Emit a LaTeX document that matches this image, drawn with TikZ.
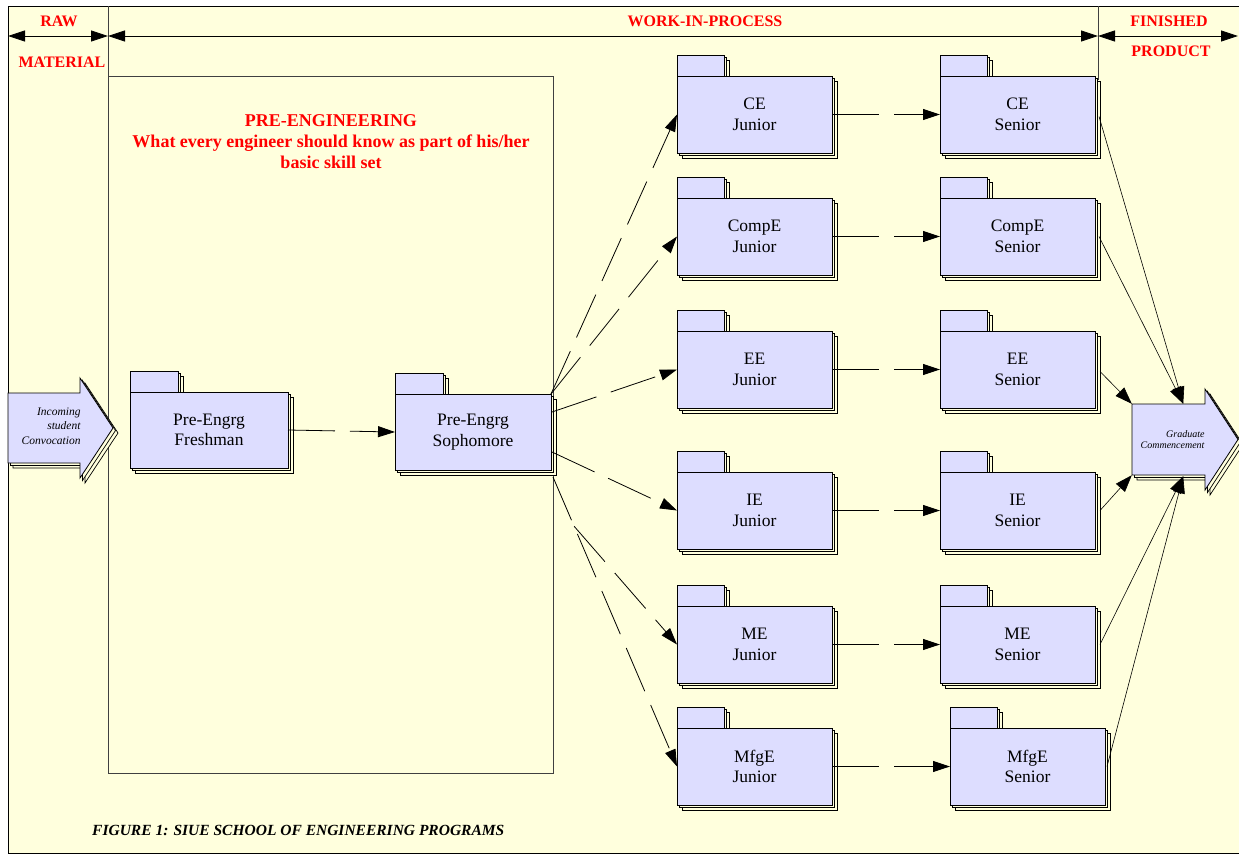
\documentclass[tikz,border=0pt]{standalone}
\usepackage{fontspec}
\setmainfont{Liberation Serif}
\usetikzlibrary{arrows.meta,calc}
\definecolor{bgy}{RGB}{255,255,221}
\definecolor{lav}{RGB}{221,221,255}
\definecolor{hdrred}{RGB}{255,0,0}
\tikzset{
  pkg/.style={draw, line width=0.8pt, fill=lav, align=center, inner sep=0pt, outer sep=0pt,
    font=\fontsize{17.5}{20.5}\selectfont},
  shadowbox/.style={draw, line width=0.7pt, fill=bgy},
  hdr/.style={text=hdrred, font=\bfseries\fontsize{16}{18}\selectfont, inner sep=0pt},
  hdrarrow/.style={line width=0.8pt, {Triangle[length=17pt,width=11pt]}-{Triangle[length=17pt,width=11pt]}},
  dconn/.style={line width=0.8pt, dash pattern=on 47pt off 15pt, -{Triangle[length=17pt,width=11pt]}},
  sconn/.style={line width=0.6pt, -{Triangle[length=17pt,width=12pt]}},
  bigarrow/.style={draw, line width=0.8pt, fill=lav},
  bigshadow/.style={draw, line width=0.7pt, fill=bgy},
}
% name, x left, y top of body, width, height, tab width, text
\newcommand\pkgbox[7]{%
  \foreach \o in {5,2.5}{%
    \draw[shadowbox] (#2+\o,#3-21+\o) rectangle ++(#6,21);
    \draw[shadowbox] (#2+\o,#3+\o) rectangle ++(#4,#5);
  }
  \draw[line width=0.8pt, fill=lav] (#2,#3-21) rectangle ++(#6,21);
  \node[pkg, minimum width=#4pt, minimum height=#5pt, anchor=north west] (#1) at (#2,#3) {#7};
}
\begin{document}
\begin{tikzpicture}[x=1pt,y=-1pt]
\useasboundingbox (0,0) rectangle (1239,855);
\fill[white] (0,0) rectangle (1239,855);
\draw[line width=0.8pt, fill=bgy] (8,6) rectangle (1260,853);

% header dividers
\draw[line width=0.8pt, black!75] (108,6) -- (108,773);
\draw[line width=0.8pt, black!75] (1098,6) -- (1098,80);
\draw[line width=0.8pt, black!75] (108,76) rectangle (553,773);

% header arrows
\coordinate (rawL) at (8,36);
\coordinate (rawR) at (108,36);
\coordinate (wipR) at (1098,36);
\coordinate (finR) at (1238,36);
\draw[hdrarrow] (rawL) -- (rawR);
\draw[hdrarrow] (rawR) -- (wipR);
\draw[hdrarrow] (wipR) -- (finR);
\node[hdr] (raw) at (59,21) {RAW};
\node[hdr] (mat) at (62,62) {MATERIAL};
\node[hdr] (wip) at (705,21) {WORK-IN-PROCESS};
\node[hdr] (fin) at (1169,21) {FINISHED};
\node[hdr] (prod) at (1171,51) {PRODUCT};

% pre-engineering title
\node[text=hdrred, font=\bfseries\fontsize{18}{21}\selectfont, align=center, inner sep=0pt] (pretitle) at (331,142)
  {PRE-ENGINEERING\\What every engineer should know as part of his/her\\basic skill set};

% incoming arrow
\foreach \o in {5,2.5}{%
  \path[bigshadow] (8+\o,393+\o) -- (80+\o,393+\o) -- (80+\o,378+\o) -- (113+\o,428+\o) -- (80+\o,478+\o) -- (80+\o,463+\o) -- (8+\o,463+\o) -- cycle;
}
\path[bigarrow] (8,393) -- (80,393) -- (80,378) -- (113,428) -- (80,478) -- (80,463) -- (8,463) -- cycle;
\node[minimum width=72pt, minimum height=70pt, text width=73pt, align=right, inner sep=0pt,
  font=\itshape\fontsize{11.5}{14.5}\selectfont] (inc) at (44,426) {Incoming\\student\\Convocation};

% graduate arrow
\foreach \o in {5,2.5}{%
  \path[bigshadow] (1132+\o,404+\o) -- (1205+\o,404+\o) -- (1205+\o,389+\o) -- (1238+\o,439.5+\o) -- (1205+\o,490+\o) -- (1205+\o,475+\o) -- (1132+\o,475+\o) -- cycle;
}
\path[bigarrow] (1132,404) -- (1205,404) -- (1205,389) -- (1238,439.5) -- (1205,490) -- (1205,475) -- (1132,475) -- cycle;
\node[minimum width=73pt, minimum height=71pt, text width=72pt, align=right, inner sep=0pt,
  font=\itshape\fontsize{10}{11.5}\selectfont] (grad) at (1168.5,439.5) {Graduate\\Commencement};
\coordinate (gradtop) at ($(grad.north east)+(-22,0)$);
\coordinate (gradbot) at ($(grad.south east)+(-22,1)$);

% packages
\pkgbox{fresh}{130}{392}{158}{76}{48}{Pre-Engrg\\Freshman}
\pkgbox{soph}{395}{394}{156}{76}{48}{Pre-Engrg\\Sophomore}

\pkgbox{cej}{677}{76}{155}{77}{47}{CE\\Junior}
\pkgbox{compej}{677}{198}{155}{77}{47}{CompE\\Junior}
\pkgbox{eej}{677}{331}{155}{77}{47}{EE\\Junior}
\pkgbox{iej}{677}{472}{155}{77}{47}{IE\\Junior}
\pkgbox{mej}{677}{606}{155}{77}{47}{ME\\Junior}
\pkgbox{mfgej}{677}{728}{155}{77}{47}{MfgE\\Junior}

\pkgbox{cesr}{940}{76}{155}{77}{47}{CE\\Senior}
\pkgbox{compesr}{940}{198}{155}{77}{47}{CompE\\Senior}
\pkgbox{eesr}{940}{331}{155}{77}{47}{EE\\Senior}
\pkgbox{iesr}{940}{472}{155}{77}{47}{IE\\Senior}
\pkgbox{mesr}{940}{606}{155}{77}{47}{ME\\Senior}
\pkgbox{mfgesr}{950}{728}{155}{77}{47}{MfgE\\Senior}

% connectors
\draw[dconn] (fresh.east) -- (soph.west);
\draw[dconn] (soph.north east) -- (cej.west);
\draw[dconn] (soph.north east) -- (compej.west);
\draw[dconn] ($(soph.north east)+(1,18)$) -- (eej.west);
\draw[dconn] ($(soph.north east)+(1,58)$) -- (iej.west);
\coordinate (sophse) at ($(soph.south east)+(2,7)$);
\draw[dconn] (sophse) -- (mfgej.west);
\draw[dconn] ($(sophse)!0.17!(mfgej.west)$) -- (mej.west);

\draw[dconn] (cej.east) -- (cesr.west);
\draw[dconn] (compej.east) -- (compesr.west);
\draw[dconn] (eej.east) -- (eesr.west);
\draw[dconn] (iej.east) -- (iesr.west);
\draw[dconn] (mej.east) -- (mesr.west);
\draw[dconn] (mfgej.east) -- (mfgesr.west);

\draw[sconn] ($(cesr.east)+(4,2)$) -- (gradtop);
\draw[sconn] ($(compesr.east)+(4,0)$) -- (gradtop);
\draw[sconn] ($(eesr.east)+(5,2)$) -- (grad.north west);
\draw[sconn] ($(iesr.east)+(5,0)$) -- (grad.south west);
\draw[sconn] ($(mesr.east)+(5,0)$) -- (gradbot);
\draw[sconn] ($(mfgesr.east)+(2,0)$) -- (gradbot);

% caption
\node[anchor=west, inner sep=0pt, font=\bfseries\itshape\fontsize{15.5}{18}\selectfont] (cap) at (92,830)
  {FIGURE 1: SIUE SCHOOL OF ENGINEERING PROGRAMS};
\end{tikzpicture}
\end{document}
